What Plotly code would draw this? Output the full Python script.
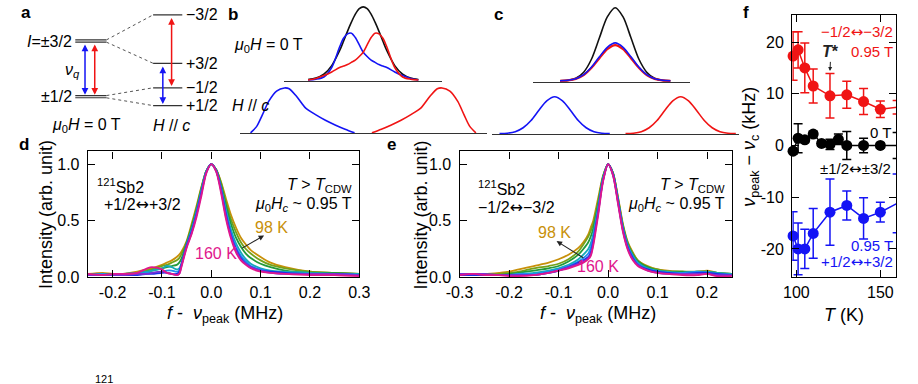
import plotly.graph_objects as go

W, H = 918, 384
FONT = "Liberation Sans, Arial, Helvetica, sans-serif"
ARR = '<span style="font-family:DejaVu Sans">↔</span>'

# ---------------- data ----------------
# panel a : schematic level energies (arb. units)
levels_zero = [1.02, 0.98, 0.02, -0.02]
labels_zero = ["<i>I</i>=±3/2", "±1/2"]
labels_zero_E = [1.0, 0.0]
levels_field = [1.47, 0.60, 0.16, -0.16]
labels_field = ["−3/2", "+3/2", "−1/2", "+1/2"]

# panel b : schematic spectra
b_top_x = [-0.7, -0.6, -0.5, -0.4, -0.3, -0.25, -0.2, -0.15, -0.1, -0.05, 0.0,
           0.05, 0.1, 0.15, 0.2, 0.25, 0.3, 0.4, 0.5, 0.6, 0.7]
b_top_total = [0.007, 0.025, 0.078, 0.196, 0.40, 0.53, 0.665, 0.79, 0.90, 0.975, 1.0,
               0.975, 0.90, 0.79, 0.665, 0.53, 0.40, 0.196, 0.078, 0.025, 0.007]
b_top_blue = [0.0, 0.01, 0.04, 0.17, 0.45, 0.57, 0.63, 0.64, 0.58, 0.48, 0.38,
              0.32, 0.27, 0.24, 0.21, 0.19, 0.17, 0.11, 0.06, 0.02, 0.0]
b_top_red = [0.0, 0.02, 0.06, 0.11, 0.17, 0.19, 0.21, 0.24, 0.27, 0.32, 0.38,
             0.48, 0.58, 0.64, 0.63, 0.57, 0.45, 0.17, 0.04, 0.01, 0.0]
b_bot_blue_x = [-1.43, -1.35, -1.28, -1.2, -1.1, -1.0, -0.94, -0.85, -0.73, -0.6, -0.48, -0.35, -0.23, -0.11]
b_bot_blue = [0.0, 0.15, 0.4, 0.7, 0.93, 1.0, 0.98, 0.82, 0.55, 0.4, 0.28, 0.17, 0.08, 0.0]
b_bot_red_x = [0.11, 0.23, 0.35, 0.48, 0.6, 0.73, 0.85, 0.94, 1.0, 1.1, 1.2, 1.28, 1.35, 1.43]
b_bot_red = [0.0, 0.08, 0.17, 0.28, 0.4, 0.55, 0.82, 0.98, 1.0, 0.93, 0.7, 0.4, 0.15, 0.0]

# panel c : schematic spectra
c_top_x = [-0.7, -0.6, -0.5, -0.4, -0.3, -0.2, -0.1, 0.0, 0.1, 0.2, 0.3, 0.4, 0.5, 0.6, 0.7]
c_top_total = [0.002, 0.008, 0.036, 0.12, 0.30, 0.59, 0.875, 1.0, 0.875, 0.59, 0.30, 0.12, 0.036, 0.008, 0.002]
c_top_blue = [0.002, 0.009, 0.03, 0.085, 0.19, 0.33, 0.46, 0.52, 0.46, 0.33, 0.19, 0.085, 0.03, 0.009, 0.002]
c_top_red = [0.002, 0.008, 0.028, 0.08, 0.18, 0.31, 0.435, 0.49, 0.435, 0.31, 0.18, 0.08, 0.028, 0.008, 0.002]
c_bot_blue_x = [-1.5, -1.4, -1.3, -1.2, -1.1, -1.0, -0.9, -0.8, -0.7, -0.6, -0.5, -0.4, -0.3, -0.2, -0.1]
c_bot_red_x = [0.1, 0.2, 0.3, 0.4, 0.5, 0.6, 0.7, 0.8, 0.9, 1.0, 1.1, 1.2, 1.3, 1.4, 1.5]
c_bot_blue = [0.004, 0.017, 0.058, 0.163, 0.36, 0.635, 0.89, 1.0, 0.89, 0.635, 0.36, 0.163, 0.058, 0.017, 0.004]
c_bot_red = [0.004, 0.017, 0.058, 0.163, 0.36, 0.635, 0.89, 1.0, 0.89, 0.635, 0.36, 0.163, 0.058, 0.017, 0.004]

# panel d : 121Sb2 +1/2<->+3/2 spectra (f - v_peak in MHz)
d_x = [-0.25, -0.22, -0.2, -0.18, -0.15, -0.13, -0.12, -0.1, -0.09, -0.08, -0.07, -0.065, -0.06,
       -0.05, -0.04, -0.03, -0.02, -0.01, 0.0, 0.01, 0.02, 0.03, 0.04, 0.05, 0.06, 0.07, 0.08,
       0.1, 0.12, 0.15, 0.2, 0.25, 0.3]
d_160 = [0.03, 0.02, 0.03, 0.03, 0.04, 0.08, 0.09, 0.07, 0.04, 0.03, 0.02, 0.03, 0.10, 0.26, 0.38, 0.53, 0.72, 0.92, 1.0, 0.93, 0.74, 0.51, 0.34, 0.22, 0.15, 0.11, 0.08, 0.05, 0.04, 0.03, 0.02, 0.02, 0.01]
d_150 = [0.02, 0.02, 0.02, 0.02, 0.03, 0.03, 0.04, 0.05, 0.04, 0.03, 0.02, 0.03, 0.11, 0.27, 0.39, 0.55, 0.74, 0.93, 1.0, 0.94, 0.76, 0.53, 0.36, 0.24, 0.16, 0.12, 0.09, 0.06, 0.04, 0.03, 0.03, 0.03, 0.02]
d_140 = [0.02, 0.02, 0.02, 0.02, 0.02, 0.03, 0.03, 0.04, 0.04, 0.03, 0.03, 0.05, 0.12, 0.28, 0.40, 0.56, 0.75, 0.93, 1.0, 0.94, 0.77, 0.55, 0.37, 0.25, 0.17, 0.12, 0.09, 0.06, 0.05, 0.04, 0.03, 0.03, 0.02]
d_130 = [0.02, 0.03, 0.02, 0.02, 0.03, 0.04, 0.04, 0.05, 0.06, 0.06, 0.05, 0.06, 0.12, 0.28, 0.41, 0.57, 0.76, 0.93, 1.0, 0.94, 0.78, 0.57, 0.39, 0.27, 0.19, 0.14, 0.10, 0.07, 0.05, 0.04, 0.03, 0.03, 0.02]
d_120 = [0.02, 0.02, 0.02, 0.03, 0.04, 0.05, 0.06, 0.08, 0.10, 0.09, 0.07, 0.08, 0.13, 0.29, 0.42, 0.58, 0.77, 0.94, 1.0, 0.94, 0.79, 0.59, 0.42, 0.30, 0.22, 0.16, 0.12, 0.08, 0.06, 0.05, 0.04, 0.03, 0.03]
d_110 = [0.02, 0.03, 0.03, 0.03, 0.04, 0.05, 0.06, 0.08, 0.09, 0.10, 0.11, 0.13, 0.17, 0.30, 0.44, 0.60, 0.78, 0.94, 1.0, 0.95, 0.81, 0.63, 0.47, 0.35, 0.27, 0.21, 0.17, 0.12, 0.09, 0.06, 0.04, 0.04, 0.03]
d_105 = [0.03, 0.03, 0.03, 0.03, 0.04, 0.06, 0.07, 0.10, 0.11, 0.13, 0.15, 0.17, 0.21, 0.31, 0.45, 0.61, 0.79, 0.94, 1.0, 0.95, 0.83, 0.66, 0.51, 0.40, 0.31, 0.25, 0.21, 0.15, 0.11, 0.08, 0.05, 0.04, 0.03]
d_98 = [0.03, 0.04, 0.03, 0.03, 0.05, 0.07, 0.08, 0.11, 0.13, 0.15, 0.18, 0.20, 0.23, 0.32, 0.47, 0.63, 0.80, 0.94, 1.0, 0.95, 0.84, 0.69, 0.55, 0.44, 0.35, 0.29, 0.24, 0.18, 0.13, 0.09, 0.05, 0.04, 0.03]

# panel e : 121Sb2 -1/2<->-3/2 spectra
e_x = [-0.3, -0.27, -0.25, -0.22, -0.2, -0.18, -0.15, -0.12, -0.1, -0.08, -0.06, -0.05, -0.04,
       -0.035, -0.03, -0.02, -0.01, 0.0, 0.01, 0.02, 0.03, 0.04, 0.05, 0.06, 0.08, 0.1, 0.12,
       0.15, 0.18, 0.2, 0.22, 0.25]
e_160 = [0.02, 0.03, 0.02, 0.02, 0.01, 0.01, 0.02, 0.04, 0.06, 0.08, 0.11, 0.13, 0.16, 0.19, 0.28, 0.55, 0.85, 1.0, 0.90, 0.65, 0.40, 0.24, 0.15, 0.10, 0.06, 0.04, 0.03, 0.02, 0.02, 0.03, 0.01, 0.01]
e_150 = [0.03, 0.03, 0.03, 0.02, 0.02, 0.02, 0.02, 0.04, 0.06, 0.09, 0.12, 0.14, 0.17, 0.20, 0.30, 0.57, 0.86, 1.0, 0.90, 0.66, 0.41, 0.25, 0.16, 0.11, 0.06, 0.04, 0.03, 0.03, 0.03, 0.03, 0.02, 0.02]
e_140 = [0.02, 0.02, 0.02, 0.02, 0.02, 0.02, 0.02, 0.04, 0.06, 0.09, 0.13, 0.15, 0.18, 0.22, 0.32, 0.58, 0.86, 1.0, 0.91, 0.67, 0.42, 0.26, 0.17, 0.11, 0.07, 0.05, 0.04, 0.03, 0.04, 0.04, 0.03, 0.02]
e_130 = [0.02, 0.02, 0.02, 0.02, 0.02, 0.03, 0.03, 0.05, 0.07, 0.10, 0.14, 0.17, 0.21, 0.26, 0.35, 0.60, 0.87, 1.0, 0.91, 0.68, 0.43, 0.27, 0.18, 0.12, 0.07, 0.05, 0.04, 0.04, 0.05, 0.04, 0.03, 0.02]
e_120 = [0.02, 0.02, 0.02, 0.02, 0.02, 0.03, 0.04, 0.06, 0.08, 0.11, 0.16, 0.20, 0.25, 0.30, 0.38, 0.62, 0.88, 1.0, 0.91, 0.68, 0.44, 0.28, 0.19, 0.13, 0.08, 0.06, 0.05, 0.04, 0.05, 0.05, 0.04, 0.03]
e_110 = [0.02, 0.02, 0.02, 0.02, 0.03, 0.04, 0.06, 0.08, 0.10, 0.14, 0.20, 0.25, 0.31, 0.36, 0.43, 0.65, 0.89, 1.0, 0.92, 0.69, 0.45, 0.29, 0.20, 0.14, 0.09, 0.06, 0.05, 0.05, 0.04, 0.05, 0.04, 0.03]
e_105 = [0.03, 0.03, 0.03, 0.03, 0.04, 0.05, 0.08, 0.10, 0.12, 0.16, 0.23, 0.29, 0.36, 0.41, 0.47, 0.67, 0.89, 1.0, 0.92, 0.70, 0.46, 0.30, 0.21, 0.15, 0.09, 0.07, 0.05, 0.05, 0.05, 0.05, 0.04, 0.03]
e_98 = [0.03, 0.03, 0.03, 0.04, 0.05, 0.07, 0.10, 0.13, 0.16, 0.20, 0.26, 0.31, 0.38, 0.44, 0.50, 0.70, 0.90, 1.0, 0.92, 0.71, 0.47, 0.31, 0.22, 0.15, 0.10, 0.07, 0.06, 0.05, 0.05, 0.06, 0.04, 0.03]

spectra_names = ["160 K", "150 K", "140 K", "130 K", "120 K", "110 K", "105 K", "98 K"]
spectra_colors = ["#e0168c", "#7a2fd6", "#1f2fe8", "#1c8ff0", "#15a9b8", "#229a3a", "#74a11a", "#c8900a"]

# panel f : v_peak - v_c (kHz) vs T (K)
T_red = [98, 101, 105, 110, 120, 130, 140, 150, 160]
red_val = [17.3, 18.5, 15.0, 11.5, 9.6, 9.8, 8.5, 7.0, 7.4]
red_err = [4.7, 3.5, 4.8, 3.3, 4.3, 2.6, 2.5, 1.6, 1.3]
T_black = [98, 101, 105, 110, 115, 120, 125, 130, 140, 150, 160]
black_val = [-1.1, 1.4, 1.1, 2.2, 0.4, 0.2, 1.2, 0.0, 0.0, 0.0, 0.0]
black_err = [0.6, 2.8, 0.5, 0.5, 0.5, 1.0, 1.0, 2.7, 1.4, 0.5, 2.5]
T_blue = [98, 101, 105, 110, 120, 130, 140, 150, 160]
blue_val = [-17.5, -20.0, -20.0, -17.0, -12.9, -11.6, -14.1, -12.9, -11.2]
blue_err = [4.7, 5.0, 3.8, 4.8, 6.4, 2.8, 4.0, 1.9, 5.7]


# ---------------- helpers ----------------
def xdom(l, r):
    return [l / W, r / W]


def ydom(top, bot):
    return [1 - bot / H, 1 - top / H]


def px(x):
    return x / W


def py(y):
    return 1 - y / H


fig = go.Figure()


def line(x, y, xa, ya, color, width=1.6, dash=None, shape="spline"):
    fig.add_trace(go.Scatter(x=x, y=y, xaxis=xa, yaxis=ya, mode="lines",
                             line=dict(color=color, width=width, dash=dash, shape=shape,
                                       smoothing=0.8 if shape == "spline" else None),
                             hoverinfo="skip", showlegend=False))


# ---- panel a ----
A_X0, A_X1 = 63, 95      # zero-field level columns
A_F0, A_F1 = 143, 173    # field level columns
for e in levels_zero:
    line([A_X0, A_X1], [e, e], "x4", "y4", "#333", 1.1, shape="linear")
for e in levels_field:
    line([A_F0, A_F1], [e, e], "x4", "y4", "#333", 1.3, shape="linear")
for e0, e1 in zip(levels_zero, levels_field):
    line([A_X1, A_F0], [e0, e1], "x4", "y4", "#555", 1.0, dash="dot", shape="linear")

# ---- panel b ----
line(b_top_x, b_top_total, "x5", "y5", "#111")
line(b_top_x, b_top_blue, "x5", "y5", "#1414f5")
line(b_top_x, b_top_red, "x5", "y5", "#f01414")
line(b_bot_blue_x, b_bot_blue, "x6", "y6", "#1414f5")
line(b_bot_red_x, b_bot_red, "x6", "y6", "#f01414")

# ---- panel c ----
line(c_top_x, c_top_total, "x7", "y7", "#111")
line(c_top_x, c_top_red, "x7", "y7", "#f01414", 2.2)
line(c_top_x, c_top_blue, "x7", "y7", "#1414f5", 1.6)
line(c_bot_blue_x, c_bot_blue, "x8", "y8", "#1414f5")
line(c_bot_red_x, c_bot_red, "x8", "y8", "#f01414")

# ---- panels d, e ----
d_sets = [d_160, d_150, d_140, d_130, d_120, d_110, d_105, d_98]
e_sets = [e_160, e_150, e_140, e_130, e_120, e_110, e_105, e_98]
for ys, col in reversed(list(zip(d_sets, spectra_colors))):
    line(d_x, ys, "x", "y", col, 1.8)
for ys, col in reversed(list(zip(e_sets, spectra_colors))):
    line(e_x, ys, "x2", "y2", col, 1.8)

# ---- panel f ----
for T, v, err, col in [(T_red, red_val, red_err, "#f01414"),
                       (T_black, black_val, black_err, "#000000"),
                       (T_blue, blue_val, blue_err, "#1414f5")]:
    fig.add_trace(go.Scatter(x=T, y=v, xaxis="x3", yaxis="y3", mode="lines+markers",
                             line=dict(color=col, width=1.5),
                             marker=dict(color=col, size=11, symbol="circle"),
                             error_y=dict(type="data", array=err, visible=True,
                                          color=col, thickness=1.5, width=4.5),
                             cliponaxis=False, hoverinfo="skip", showlegend=False))

# ---------------- layout ----------------
tickfont = dict(family=FONT, size=16, color="black")
frame = dict(showline=True, mirror="ticks", linecolor="black", linewidth=1.4,
             ticks="inside", ticklen=7, tickwidth=1.4, tickcolor="black",
             showgrid=False, zeroline=False, tickfont=tickfont, fixedrange=True)
sch_x = dict(showline=True, linecolor="#333", linewidth=1.2, showticklabels=False,
             ticks="", showgrid=False, zeroline=False, fixedrange=True)
hidden = dict(visible=False, showgrid=False, zeroline=False, fixedrange=True)

layout = dict(
    width=W, height=H, margin=dict(l=0, r=0, t=0, b=0), autosize=False,
    paper_bgcolor="white", plot_bgcolor="white", showlegend=False,
    font=dict(family=FONT, color="black"),
    # d
    xaxis=dict(frame, domain=xdom(76, 355), anchor="y", range=[-0.25, 0.3],
               tickvals=[-0.2, -0.1, 0.0, 0.1, 0.2, 0.3],
               ticktext=["-0.2", "-0.1", "0.0", "0.1", "0.2", "0.3"]),
    yaxis=dict(frame, domain=ydom(155, 284), anchor="x", range=[0, 1.112],
               tickvals=[0, 0.5, 1.0], ticktext=["0.0", "0.5", "1.0"], ticklabelstandoff=4),
    # e
    xaxis2=dict(frame, domain=xdom(458, 738), anchor="y2", range=[-0.3, 0.25],
                tickvals=[-0.3, -0.2, -0.1, 0.0, 0.1, 0.2],
                ticktext=["-0.3", "-0.2", "-0.1", "0.0", "0.1", "0.2"]),
    yaxis2=dict(frame, domain=ydom(155, 284), anchor="x2", range=[0, 1.112],
                tickvals=[0, 0.5, 1.0], ticktext=["0.0", "0.5", "1.0"], ticklabelstandoff=4),
    # f
    xaxis3=dict(frame, domain=xdom(800, 907), anchor="y3", range=[97.5, 159.5],
                tickvals=[100, 150], ticktext=["100", "150"]),
    yaxis3=dict(frame, domain=ydom(15, 284), anchor="x3", range=[-25.5, 25.3],
                tickvals=[-20, -10, 0, 10, 20], ticktext=["-20", "-10", "0", "10", "20"],
                ticklabelstandoff=4),
    # a
    xaxis4=dict(hidden, domain=xdom(0, 200), anchor="y4", range=[0, 200]),
    yaxis4=dict(hidden, domain=ydom(0, 140), anchor="x4", range=[-0.719, 1.737]),
    # b top / bottom
    xaxis5=dict(sch_x, domain=xdom(278, 440), anchor="y5", range=[-1.0, 1.0]),
    yaxis5=dict(hidden, domain=ydom(4, 83), anchor="x5", range=[-0.015, 1.04]),
    xaxis6=dict(sch_x, domain=xdom(232, 486), anchor="y6", range=[-1.568, 1.568]),
    yaxis6=dict(hidden, domain=ydom(88.2, 136.7), anchor="x6", range=[-0.015, 1.04]),
    # c top / bottom
    xaxis7=dict(sch_x, domain=xdom(534, 695), anchor="y7", range=[-1.037, 0.95]),
    yaxis7=dict(hidden, domain=ydom(5, 84), anchor="x7", range=[-0.015, 1.04]),
    xaxis8=dict(sch_x, domain=xdom(491, 745), anchor="y8", range=[-1.6, 1.537]),
    yaxis8=dict(hidden, domain=ydom(97.5, 137.6), anchor="x8", range=[-0.015, 1.04]),
)
fig.update_layout(**layout)

ann = []


def text(t, x, y, size=16, color="black", xanchor="center", yanchor="middle",
         xref="paper", yref="paper", angle=0):
    ann.append(dict(text=t, x=x, y=y, xref=xref, yref=yref, showarrow=False,
                    xanchor=xanchor, yanchor=yanchor, textangle=angle,
                    font=dict(family=FONT, size=size, color=color)))


def arrow(x, y, ax, ay, xa, ya, color, both=False, width=1.5, size=0.9):
    d = dict(text="", x=x, y=y, ax=ax, ay=ay, xref=xa, yref=ya, axref=xa, ayref=ya,
             showarrow=True, arrowhead=2, arrowsize=size, arrowwidth=width,
             arrowcolor=color, standoff=0, startstandoff=0)
    if both:
        d.update(arrowside="end+start", startarrowhead=2, startarrowsize=size)
    ann.append(d)


# panel letters
for lab, x, y in [("a", 12, 13), ("b", 225, 15), ("c", 498, 15),
                  ("d", 10, 148), ("e", 388, 148), ("f", 752, 13)]:
    text("<b>%s</b>" % lab, px(x), py(y), size=17)

# panel a texts & arrows
for lab, e in zip(labels_zero, labels_zero_E):
    text(lab, 62, e, xanchor="right", xref="x4", yref="y4")
for lab, e in zip(labels_field, levels_field):
    text(lab, 175, e, xanchor="left", xref="x4", yref="y4")
text("<i>ν</i><sub><i>q</i></sub>", 60, 0.47, xref="x4", yref="y4")
text("<i>μ</i><sub>0</sub><i>H</i> = 0 T", 75, -0.51, xref="x4", yref="y4")
text("<i>H</i> // <i>c</i>", 162, -0.51, xref="x4", yref="y4")
arrow(73, levels_zero[2] + 0.015, 73, levels_zero[1] - 0.015, "x4", "y4", "#1414f5", both=True)
arrow(83, levels_zero[2] + 0.015, 83, levels_zero[1] - 0.015, "x4", "y4", "#f01414", both=True)
arrow(162, levels_field[2] + 0.03, 162, levels_field[0] - 0.03, "x4", "y4", "#f01414", both=True)
arrow(153, levels_field[3] + 0.03, 153, levels_field[1] - 0.03, "x4", "y4", "#1414f5", both=True)

# panel b texts
text("<i>μ</i><sub>0</sub><i>H</i> = 0 T", px(224), py(47), xanchor="left")
text("<i>H</i> // <i>c</i>", px(222), py(108), xanchor="left")

# panel d texts
text("<sup>121</sup>Sb2", -0.236, 0.81, xref="x", yref="y", xanchor="left")
text("+1/2" + ARR + "+3/2", -0.222, 0.64, xref="x", yref="y", xanchor="left")
text("<i>T</i> > <i>T</i><sub>CDW</sub>", 0.29, 0.81, xref="x", yref="y", xanchor="right")
text("<i>μ</i><sub>0</sub><i>H</i><sub><i>c</i></sub> ~ 0.95 T", 0.29, 0.64, xref="x", yref="y",
     xanchor="right")
text("98 K", 0.1226, 0.44, xref="x", yref="y", color=spectra_colors[-1])
text("160 K", 0.010, 0.207, xref="x", yref="y", color=spectra_colors[0])
arrow(0.107, 0.37, 0.0595, 0.25, "x", "y", "#222", width=1.1, size=1.0)

# panel e texts
text("<sup>121</sup>Sb2", -0.267, 0.79, xref="x2", yref="y2", xanchor="left")
text("−1/2" + ARR + "−3/2", -0.267, 0.62, xref="x2", yref="y2", xanchor="left")
text("<i>T</i> > <i>T</i><sub>CDW</sub>", 0.24, 0.81, xref="x2", yref="y2", xanchor="right")
text("<i>μ</i><sub>0</sub><i>H</i><sub><i>c</i></sub> ~ 0.95 T", 0.24, 0.64, xref="x2", yref="y2",
     xanchor="right")
text("98 K", -0.109, 0.40, xref="x2", yref="y2", color=spectra_colors[-1])
text("160 K", -0.021, 0.095, xref="x2", yref="y2", color=spectra_colors[0])
arrow(-0.104, 0.32, -0.047, 0.164, "x2", "y2", "#222", width=1.1, size=1.0)

# axis titles
text("Intensity (arb. unit)", px(33), py(220), size=18, angle=-90)
text("Intensity (arb. unit)", px(418), py(220), size=18, angle=-90)
text("<i>f</i> -  <i>ν</i><sub>peak</sub> (MHz)", px(217), py(322), size=18)
text("<i>f</i> -  <i>ν</i><sub>peak</sub> (MHz)", px(600), py(322), size=18)
text("<i>ν</i><sub>peak</sub> − <i>ν</i><sub>c</sub> (kHz)", px(757), py(150), size=18, angle=-90)
text("<i>T</i> (K)", px(853), py(323), size=18)

# panel f texts
text("−1/2" + ARR + "−3/2", 158.5, 21.9, xref="x3", yref="y3", xanchor="right", size=15, color="#f01414")
text("0.95 T", 158.5, 18.1, xref="x3", yref="y3", xanchor="right", size=15, color="#f01414")
text("0 T", 157.5, 2.6, xref="x3", yref="y3", xanchor="right", size=15)
text("±1/2" + ARR + "±3/2", 157.5, -4.5, xref="x3", yref="y3", xanchor="right", size=15)
text("0.95 T", 158.5, -19.4, xref="x3", yref="y3", xanchor="right", size=15, color="#1414f5")
text("+1/2" + ARR + "+3/2", 158.5, -22.5, xref="x3", yref="y3", xanchor="right", size=15, color="#1414f5")
ann.append(dict(text="<b><i>T</i>*</b>", x=120, y=14.4, ax=120.5, ay=18.1, xref="x3", yref="y3",
                axref="x3", ayref="y3", showarrow=True, arrowhead=2, arrowsize=0.8,
                arrowwidth=1.0, arrowcolor="#222", standoff=0,
                font=dict(family=FONT, size=16, color="#222")))

# caption fragment cut by the bottom edge
text("121", px(93), py(380), size=11, yanchor="top")

fig.update_layout(annotations=ann)
fig.write_html("out.html")
